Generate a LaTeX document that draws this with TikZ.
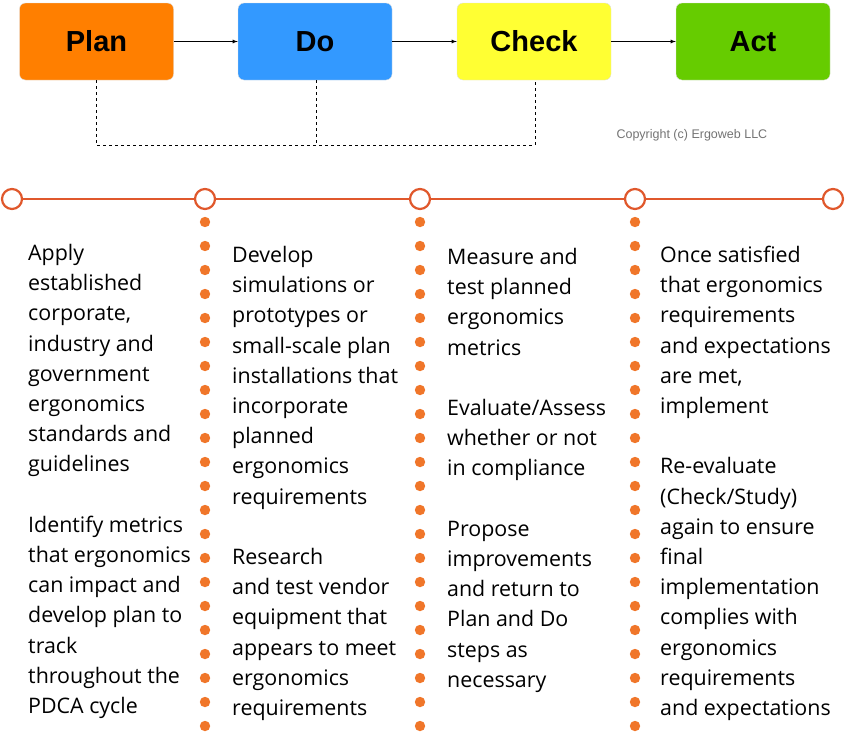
\documentclass[tikz,border=0pt]{standalone}
\usepackage{fontspec}
\setmainfont{Open Sans}
\newfontfamily\hfont{Liberation Sans}
\definecolor{cplan}{HTML}{FF7F00}
\definecolor{cdo}{HTML}{3399FF}
\definecolor{ccheck}{HTML}{FFFF33}
\definecolor{cact}{HTML}{66CC00}
\definecolor{tl}{HTML}{E0582C}
\definecolor{dotc}{HTML}{F0762A}
\tikzset{
 phase/.style={rounded corners=6pt,draw=black!12,minimum width=154pt,minimum height=77pt,font=\hfont\bfseries\fontsize{29}{32}\selectfont,inner sep=0pt},
 ring/.style={circle,draw=tl,line width=2.2pt,fill=white,minimum size=20pt,inner sep=0pt},
 coltext/.style={anchor=north west,align=left,inner sep=0pt,font=\fontsize{21.4}{30.2}\selectfont},
 flow/.style={-latex,line width=0.8pt}
}
\begin{document}
\begin{tikzpicture}[x=1pt,y=-1pt]
\useasboundingbox (0,0) rectangle (850,736);
\node[phase,fill=cplan] (plan) at (96.5,41.5) {Plan};
\node[phase,fill=cdo] (do) at (315,41.5) {Do};
\node[phase,fill=ccheck] (check) at (534,41.5) {Check};
\node[phase,fill=cact] (act) at (753,41.5) {Act};
\draw[flow] (plan) -- (do);
\draw[flow] (do) -- (check);
\draw[flow] (check) -- (act);
\coordinate (p1) at (96,145);
\coordinate (p2) at (316,145);
\coordinate (p3) at (535,145);
\draw[dashed,line width=0.7pt] (plan.south -| p1) -- (p1) -- (p3) -- (check.south -| p3);
\draw[dashed,line width=0.7pt] (do.south -| p2) -- (p2);
\node[text=black!55,font=\hfont\fontsize{12.5}{14}\selectfont,anchor=west] (copy) at (613,135) {Copyright (c) Ergoweb LLC};
\node[ring] (r0) at (12,199) {};
\node[ring] (r1) at (205,199) {};
\node[ring] (r2) at (420,199) {};
\node[ring] (r3) at (635,199) {};
\node[ring] (r4) at (833,199) {};
\draw[tl,line width=2.2pt] (r0) -- (r1) -- (r2) -- (r3) -- (r4);
\foreach \x in {205,420,635}{
 \foreach \i in {0,...,21}{
  \fill[dotc] (\x,{222+\i*24}) circle (5.2pt);
 }
}
\node[coltext] (c1) at (28,244) {Apply\\established\\corporate,\\industry and\\government\\ergonomics\\standards and\\guidelines\\[30.2pt]Identify metrics\\that ergonomics\\can impact and\\develop plan to\\track\\throughout the\\PDCA cycle};
\node[coltext] (c2) at (232,246) {Develop\\simulations or\\prototypes or\\small-scale plan\\installations that\\incorporate\\planned\\ergonomics\\requirements\\[30.2pt]Research\\and test vendor\\equipment that\\appears to meet\\ergonomics\\requirements};
\node[coltext] (c3) at (447,248) {Measure and\\test planned\\ergonomics\\metrics\\[30.2pt]Evaluate/Assess\\whether or not\\in compliance\\[30.2pt]Propose\\improvements\\and return to\\Plan and Do\\steps as\\necessary};
\node[coltext] (c4) at (660,246) {Once satisfied\\that ergonomics\\requirements\\and expectations\\are met,\\implement\\[30.2pt]Re-evaluate\\(Check/Study)\\again to ensure\\final\\implementation\\complies with\\ergonomics\\requirements\\and expectations};
\end{tikzpicture}
\end{document}
